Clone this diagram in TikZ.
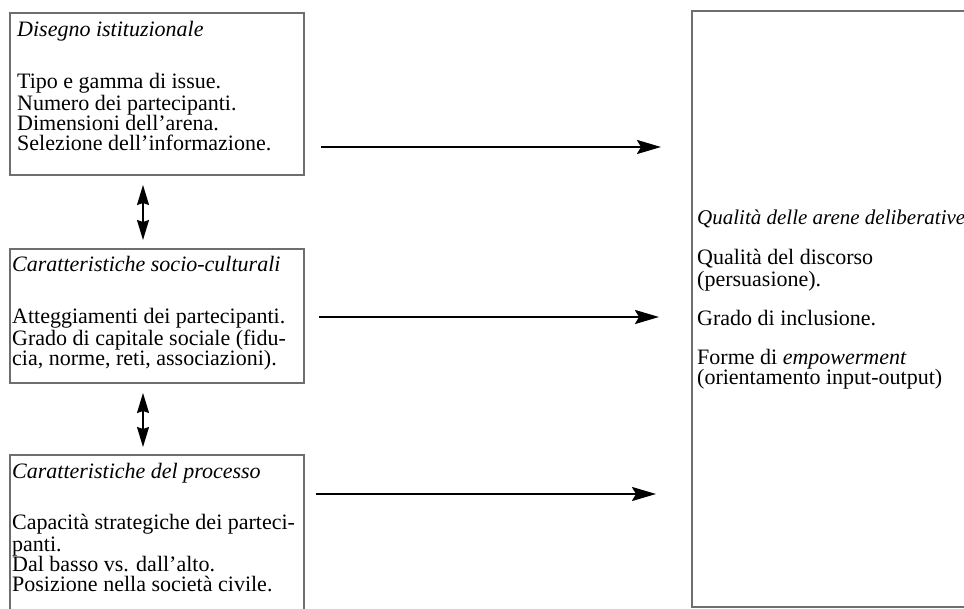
\documentclass[tikz,border=0pt]{standalone}
\usepackage{fontspec}
\setmainfont{Liberation Serif}
\usetikzlibrary{arrows.meta}
\definecolor{boxgray}{HTML}{6E6E6E}
\begin{document}
\begin{tikzpicture}[x=1pt,y=-1pt,
  boxline/.style={draw=boxgray, line width=1.3pt, inner sep=0pt, outer sep=0pt, anchor=north west},
  txt/.style={anchor=north west, inner sep=0pt, align=left, font=\fontsize{22}{20}\selectfont},
  harrow/.style={line width=2.4pt, -{Stealth[length=24pt,width=14pt,inset=4pt]}},
  varrow/.style={line width=1.5pt, {Stealth[length=20pt,width=12pt,inset=2pt]}-{Stealth[length=20pt,width=12pt,inset=2pt]}}
]
\useasboundingbox (0,0) rectangle (964,609);
\clip (0,0) rectangle (964,609);
\fill[white] (0,0) rectangle (964,609);

% boxes
\node[boxline, minimum width=294pt, minimum height=162pt] (b1) at (10,13) {};
\node[boxline, minimum width=294pt, minimum height=134pt] (b2) at (10,249) {};
\node[boxline, minimum width=294pt, minimum height=200pt] (b3) at (10,455) {};
\node[boxline, minimum width=330pt, minimum height=596pt] (rbox) at (692,11) {};

% texts (top = first baseline - 14)
\node[txt] (t1) at (17,21) {\strut\itshape Disegno istituzionale};
\node[txt] (c1) at (17,73) {\strut Tipo e gamma di issue.\\Numero dei partecipanti.\\Dimensioni dell'arena.\\Selezione dell'informazione.};

\node[txt] (t2) at (12,256) {\strut\itshape Caratteristiche socio-culturali};
\node[txt] (c2) at (12,308) {\strut Atteggiamenti dei partecipanti.\\Grado di capitale sociale (fidu-\\cia, norme, reti, associazioni).};

\node[txt] (t3) at (12,463) {\strut\itshape Caratteristiche del processo};
\node[txt] (c3) at (12,514) {\strut Capacità strategiche dei parteci-\\panti.\\Dal basso vs. dall'alto.\\Posizione nella società civile.};

\node[txt, font=\fontsize{21}{20}\selectfont] (rt) at (697,210) {\strut\itshape Qualità delle arene deliberative};
\node[txt] (rc) at (697,249) {\strut Qualità del discorso\\(persuasione).\\[19pt]Grado di inclusione.\\[19pt]Forme di \textit{empowerment}\\(orientamento input-output)};

% connectors
\coordinate (y1) at (0,147);
\coordinate (y2) at (0,317);
\coordinate (y3) at (0,494);
\coordinate (vx) at (143,0);
\draw[harrow, shorten <=17pt, shorten >=31pt] (b1.east |- y1) -- (rbox.west |- y1);
\draw[harrow, shorten <=15pt, shorten >=33pt] (b2.east |- y2) -- (rbox.west |- y2);
\draw[harrow, shorten <=12pt, shorten >=36pt] (b3.east |- y3) -- (rbox.west |- y3);
\draw[varrow, shorten <=10pt, shorten >=9pt] (b1.south -| vx) -- (b2.north -| vx);
\draw[varrow, shorten <=10pt, shorten >=8pt] (b2.south -| vx) -- (b3.north -| vx);
\end{tikzpicture}
\end{document}
